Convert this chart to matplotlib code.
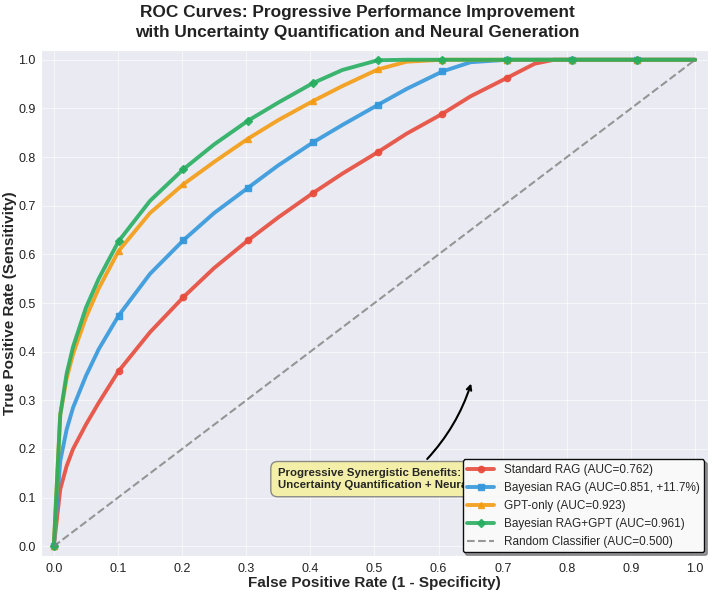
import matplotlib
matplotlib.use("Agg")
import matplotlib.pyplot as plt
import seaborn as sns

sns.set_style("darkgrid")
plt.rcParams['font.family'] = ['Liberation Sans', 'DejaVu Sans']

# False positive rate grid (read points)
fpr = [0.0, 0.01, 0.02, 0.03, 0.05, 0.07, 0.101, 0.15, 0.202, 0.25, 0.303, 0.35, 0.404,
       0.45, 0.505, 0.55, 0.606, 0.65, 0.707, 0.75, 0.78, 0.808, 0.85, 0.909, 0.95, 1.0]

tpr_standard = [0.0, 0.117, 0.165, 0.20, 0.25, 0.295, 0.36, 0.44, 0.512, 0.572, 0.629, 0.676, 0.726,
                0.766, 0.81, 0.848, 0.889, 0.925, 0.963, 0.992, 1.0, 1.0, 1.0, 1.0, 1.0, 1.0]
tpr_bayes = [0.0, 0.175, 0.24, 0.285, 0.35, 0.405, 0.474, 0.56, 0.629, 0.685, 0.737, 0.783, 0.830,
             0.866, 0.907, 0.94, 0.976, 0.995, 1.0, 1.0, 1.0, 1.0, 1.0, 1.0, 1.0, 1.0]
tpr_gpt = [0.0, 0.27, 0.345, 0.395, 0.47, 0.53, 0.607, 0.685, 0.744, 0.79, 0.838, 0.876, 0.915,
           0.946, 0.980, 0.996, 1.0, 1.0, 1.0, 1.0, 1.0, 1.0, 1.0, 1.0, 1.0, 1.0]
tpr_combined = [0.0, 0.27, 0.355, 0.41, 0.49, 0.55, 0.627, 0.71, 0.775, 0.826, 0.875, 0.912, 0.952,
                0.979, 0.999, 1.0, 1.0, 1.0, 1.0, 1.0, 1.0, 1.0, 1.0, 1.0, 1.0, 1.0]

labels = ["Standard RAG (AUC=0.762)",
          "Bayesian RAG (AUC=0.851, +11.7%)",
          "GPT-only (AUC=0.923)",
          "Bayesian RAG+GPT (AUC=0.961)"]
colors = ["#e74c3c", "#3498db", "#f39c12", "#27ae60"]
markers = ["o", "s", "^", "D"]
random_x = [0.0, 1.0]
random_y = [0.0, 1.0]

marker_idx = [0, 6, 8, 10, 12, 14, 16, 18, 21, 23]

fig = plt.figure(figsize=(7.14, 5.92), dpi=100)
ax = fig.add_axes([0.0574, 0.0608, 0.9342, 0.8547])

for tpr, lab, col, mk in zip([tpr_standard, tpr_bayes, tpr_gpt, tpr_combined],
                             labels, colors, markers):
    ax.plot(fpr, tpr, color=col, lw=2.8, marker=mk, markersize=4.5,
            markevery=marker_idx, label=lab, alpha=0.9,
            solid_joinstyle="round", solid_capstyle="round")

ax.plot(random_x, random_y, ls="--", color="gray", lw=1.5, alpha=0.8,
        label="Random Classifier (AUC=0.500)")

ax.set_xlim(-0.02, 1.02)
ax.set_ylim(-0.02, 1.02)
ax.set_xticks([i / 10 for i in range(11)])
ax.set_yticks([i / 10 for i in range(11)])
ax.tick_params(axis="x", labelsize=9, pad=1.5, labelcolor="#222222")
ax.tick_params(axis="y", labelsize=9, pad=0.5, labelcolor="#222222")
ax.grid(True, color="white", alpha=0.6, lw=0.8)

ax.set_xlabel("False Positive Rate (1 - Specificity)", fontsize=11, fontweight="bold", labelpad=1)
ax.set_ylabel("True Positive Rate (Sensitivity)", fontsize=11, fontweight="bold", labelpad=0.5)
fig.suptitle("ROC Curves: Progressive Performance Improvement\nwith Uncertainty Quantification and Neural Generation",
             fontsize=12.4, fontweight="bold", y=0.991, color="#222222", linespacing=1.35)

ax.annotate("Progressive Synergistic Benefits:\nUncertainty Quantification + Neural Generation",
            xy=(0.652, 0.34), xytext=(0.349, 0.138),
            fontsize=8.2, fontweight="bold", ha="left", va="center",
            bbox=dict(boxstyle="round,pad=0.6", facecolor="#f5f0a0", edgecolor="gray", alpha=0.9),
            arrowprops=dict(arrowstyle="->", color="black", lw=1.5,
                            connectionstyle="arc3,rad=0.15"))

leg = ax.legend(loc="lower right", fontsize=8.5, frameon=True, framealpha=0.95,
                facecolor="white", edgecolor="black", borderpad=0.4, handlelength=2.3,
                shadow=True, borderaxespad=0.3)
leg.get_frame().set_linewidth(1.0)
leg.set_zorder(10)

fig.savefig("out.png", dpi=100)
